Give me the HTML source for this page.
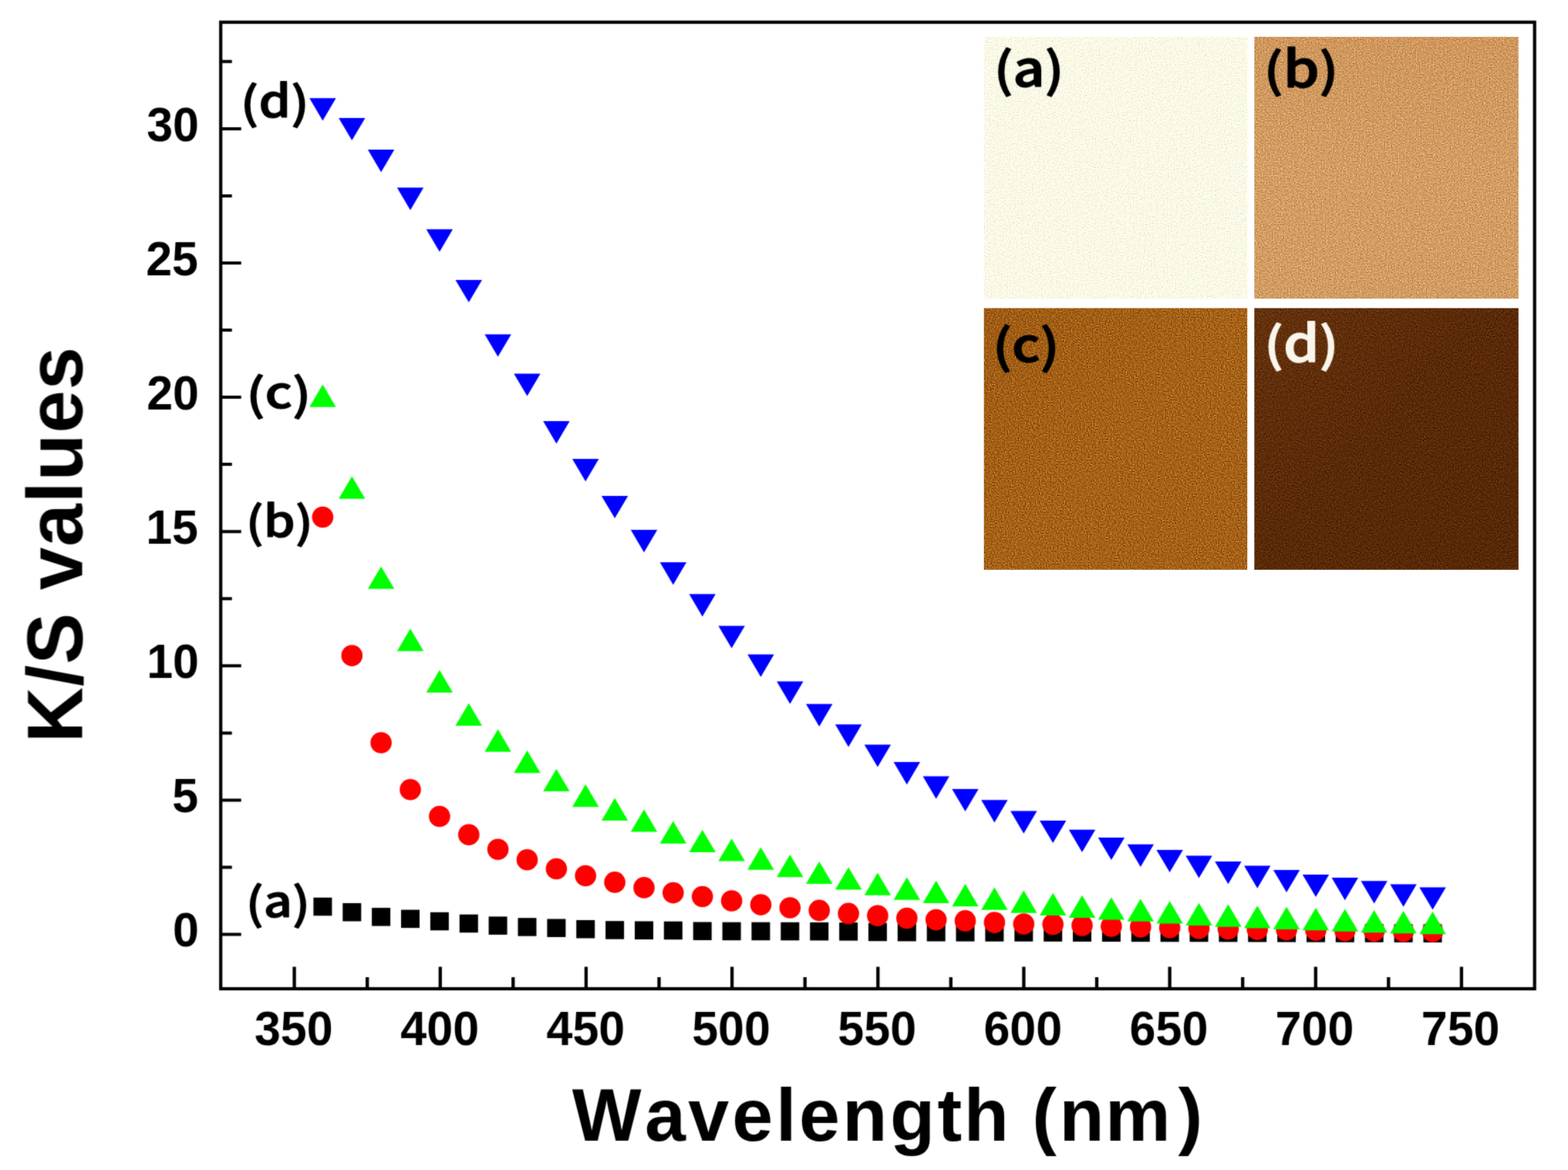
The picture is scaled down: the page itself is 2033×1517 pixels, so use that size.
<!DOCTYPE html>
<html lang="en"><head><meta charset="utf-8"><title>K/S values vs Wavelength</title>
<style>html,body{margin:0;padding:0;background:#fff;}body{width:2033px;height:1517px;overflow:hidden;}svg{display:block;}text{font-family:"Liberation Sans",sans-serif;font-weight:bold;fill:#000;font-kerning:none;}.lab{font-family:"Noto Sans CJK KR","NanumGothic","Liberation Sans",sans-serif;font-weight:bold;}</style></head><body>
<svg width="2033" height="1517" viewBox="0 0 2033 1517">
<defs>
<filter id="na" x="0" y="0" width="100%" height="100%" color-interpolation-filters="sRGB"><feTurbulence type="fractalNoise" baseFrequency="0.55" numOctaves="1" seed="3" result="n"/><feColorMatrix in="n" type="matrix" values="0.533 0.233 0.233 0 0  0.233 0.533 0.233 0 0  0.233 0.233 0.533 0 0  0 0 0 0 1" result="m"/><feComposite in="SourceGraphic" in2="m" operator="arithmetic" k1="0" k2="1" k3="0.420" k4="-0.210"/></filter>
<filter id="nb" x="0" y="0" width="100%" height="100%" color-interpolation-filters="sRGB"><feTurbulence type="fractalNoise" baseFrequency="0.55" numOctaves="1" seed="11" result="n"/><feColorMatrix in="n" type="matrix" values="0.533 0.233 0.233 0 0  0.233 0.533 0.233 0 0  0.233 0.233 0.533 0 0  0 0 0 0 1" result="m"/><feComposite in="SourceGraphic" in2="m" operator="arithmetic" k1="0" k2="1" k3="0.750" k4="-0.375"/></filter>
<filter id="nc" x="0" y="0" width="100%" height="100%" color-interpolation-filters="sRGB"><feTurbulence type="fractalNoise" baseFrequency="0.55" numOctaves="1" seed="23" result="n"/><feColorMatrix in="n" type="matrix" values="0.533 0.233 0.233 0 0  0.233 0.533 0.233 0 0  0.233 0.233 0.533 0 0  0 0 0 0 1" result="m"/><feComposite in="SourceGraphic" in2="m" operator="arithmetic" k1="0" k2="1" k3="0.800" k4="-0.400"/></filter>
<filter id="nd" x="0" y="0" width="100%" height="100%" color-interpolation-filters="sRGB"><feTurbulence type="fractalNoise" baseFrequency="0.55" numOctaves="1" seed="37" result="n"/><feColorMatrix in="n" type="matrix" values="0.533 0.233 0.233 0 0  0.233 0.533 0.233 0 0  0.233 0.233 0.533 0 0  0 0 0 0 1" result="m"/><feComposite in="SourceGraphic" in2="m" operator="arithmetic" k1="0" k2="1" k3="0.480" k4="-0.240"/></filter>
<linearGradient id="gb" x1="0" y1="0" x2="0" y2="1"><stop offset="0" stop-color="#cf975d"/><stop offset="0.5" stop-color="#d39d64"/><stop offset="1" stop-color="#d29c63"/></linearGradient>
<linearGradient id="gc" x1="0" y1="0" x2="1" y2="1"><stop offset="0" stop-color="#9f5c14"/><stop offset="0.5" stop-color="#a56218"/><stop offset="1" stop-color="#a46117"/></linearGradient>
<linearGradient id="gd" x1="0" y1="0" x2="1" y2="1"><stop offset="0" stop-color="#65320d"/><stop offset="0.45" stop-color="#5a2a08"/><stop offset="1" stop-color="#572806"/></linearGradient>
<filter id="sf" filterUnits="userSpaceOnUse" x="0" y="0" width="2033" height="1517" color-interpolation-filters="sRGB"><feConvolveMatrix order="3" kernelMatrix="1 4 1 4 16 4 1 4 1" divisor="36" edgeMode="duplicate" preserveAlpha="false"/></filter>
</defs>
<rect width="2033" height="1517" fill="#fff"/>
<clipPath id="cpa"><rect x="1275.7" y="47.8" width="341.5" height="339.4"/></clipPath>
<g clip-path="url(#cpa)"><rect x="1274" y="46" width="345" height="343" fill="#fbf9e6" filter="url(#na)"/></g>
<clipPath id="cpb"><rect x="1626.3" y="47.8" width="342.5" height="339.4"/></clipPath>
<g clip-path="url(#cpb)"><rect x="1625" y="46" width="345" height="343" fill="url(#gb)" filter="url(#nb)"/></g>
<clipPath id="cpc"><rect x="1275.7" y="399.5" width="341.5" height="339.2"/></clipPath>
<g clip-path="url(#cpc)"><rect x="1274" y="398" width="345" height="342" fill="url(#gc)" filter="url(#nc)"/></g>
<clipPath id="cpd"><rect x="1626.3" y="399.5" width="342.5" height="339.2"/></clipPath>
<g clip-path="url(#cpd)"><rect x="1625" y="398" width="345" height="342" fill="url(#gd)" filter="url(#nd)"/></g>
<g filter="url(#sf)">
<rect x="286.2" y="28.8" width="1703.5" height="1253.2" fill="none" stroke="#000" stroke-width="4.2"/>
<path d="M286.2 1211.5H312.7M286.2 1037.4H312.7M286.2 863.3H312.7M286.2 689.2H312.7M286.2 515.1H312.7M286.2 341.0H312.7M286.2 166.9H312.7M286.2 1124.5H300.7M286.2 950.4H300.7M286.2 776.2H300.7M286.2 602.1H300.7M286.2 428.0H300.7M286.2 254.0H300.7M286.2 79.8H300.7" stroke="#000" stroke-width="4" fill="none"/>
<path d="M381.6 1282.0V1253.6M570.8 1282.0V1253.6M759.9 1282.0V1253.6M949.1 1282.0V1253.6M1138.3 1282.0V1253.6M1327.4 1282.0V1253.6M1516.6 1282.0V1253.6M1705.8 1282.0V1253.6M1894.9 1282.0V1253.6M476.2 1282.0V1267.0M665.3 1282.0V1267.0M854.5 1282.0V1267.0M1043.7 1282.0V1267.0M1232.8 1282.0V1267.0M1422.0 1282.0V1267.0M1611.2 1282.0V1267.0M1800.3 1282.0V1267.0" stroke="#000" stroke-width="4.3" fill="none"/>
<g fill="#000"><rect x="406.4" y="1163.8" width="24.0" height="23.5"/><rect x="444.3" y="1171.0" width="24.0" height="23.5"/><rect x="482.1" y="1177.1" width="24.0" height="23.5"/><rect x="520.0" y="1179.6" width="24.0" height="23.5"/><rect x="557.9" y="1182.8" width="24.0" height="23.5"/><rect x="595.8" y="1185.7" width="24.0" height="23.5"/><rect x="633.6" y="1188.4" width="24.0" height="23.5"/><rect x="671.5" y="1190.2" width="24.0" height="23.5"/><rect x="709.4" y="1191.5" width="24.0" height="23.5"/><rect x="747.2" y="1193.0" width="24.0" height="23.5"/><rect x="785.1" y="1194.2" width="24.0" height="23.5"/><rect x="823.0" y="1194.5" width="24.0" height="23.5"/><rect x="860.8" y="1194.7" width="24.0" height="23.5"/><rect x="898.7" y="1195.5" width="24.0" height="23.5"/><rect x="936.6" y="1195.7" width="24.0" height="23.5"/><rect x="974.4" y="1195.7" width="24.0" height="23.5"/><rect x="1012.3" y="1195.8" width="24.0" height="23.5"/><rect x="1050.2" y="1195.9" width="24.0" height="23.5"/><rect x="1088.1" y="1196.1" width="24.0" height="23.5"/><rect x="1125.9" y="1196.7" width="24.0" height="23.5"/><rect x="1163.8" y="1196.9" width="24.0" height="23.5"/><rect x="1201.7" y="1197.0" width="24.0" height="23.5"/><rect x="1239.5" y="1197.1" width="24.0" height="23.5"/><rect x="1277.4" y="1197.2" width="24.0" height="23.5"/><rect x="1315.3" y="1197.2" width="24.0" height="23.5"/><rect x="1353.2" y="1197.3" width="24.0" height="23.5"/><rect x="1391.0" y="1197.4" width="24.0" height="23.5"/><rect x="1428.9" y="1197.5" width="24.0" height="23.5"/><rect x="1466.8" y="1197.6" width="24.0" height="23.5"/><rect x="1504.6" y="1197.7" width="24.0" height="23.5"/><rect x="1542.5" y="1197.7" width="24.0" height="23.5"/><rect x="1580.4" y="1197.8" width="24.0" height="23.5"/><rect x="1618.2" y="1197.9" width="24.0" height="23.5"/><rect x="1656.1" y="1198.0" width="24.0" height="23.5"/><rect x="1694.0" y="1198.1" width="24.0" height="23.5"/><rect x="1731.8" y="1198.2" width="24.0" height="23.5"/><rect x="1769.7" y="1198.2" width="24.0" height="23.5"/><rect x="1807.6" y="1198.3" width="24.0" height="23.5"/><rect x="1845.5" y="1198.4" width="24.0" height="23.5"/></g>
<g fill="#f00"><circle cx="418.4" cy="670.5" r="13.8"/><circle cx="456.3" cy="850.1" r="13.8"/><circle cx="494.1" cy="963.0" r="13.8"/><circle cx="532.0" cy="1023.8" r="13.8"/><circle cx="569.9" cy="1058.5" r="13.8"/><circle cx="607.8" cy="1082.3" r="13.8"/><circle cx="645.6" cy="1101.2" r="13.8"/><circle cx="683.5" cy="1114.8" r="13.8"/><circle cx="721.4" cy="1126.5" r="13.8"/><circle cx="759.2" cy="1135.5" r="13.8"/><circle cx="797.1" cy="1143.9" r="13.8"/><circle cx="835.0" cy="1150.9" r="13.8"/><circle cx="872.8" cy="1157.6" r="13.8"/><circle cx="910.7" cy="1162.5" r="13.8"/><circle cx="948.6" cy="1168.0" r="13.8"/><circle cx="986.4" cy="1173.1" r="13.8"/><circle cx="1024.3" cy="1177.0" r="13.8"/><circle cx="1062.2" cy="1180.4" r="13.8"/><circle cx="1100.1" cy="1184.4" r="13.8"/><circle cx="1137.9" cy="1187.2" r="13.8"/><circle cx="1175.8" cy="1190.5" r="13.8"/><circle cx="1213.7" cy="1192.6" r="13.8"/><circle cx="1251.5" cy="1193.9" r="13.8"/><circle cx="1289.4" cy="1196.1" r="13.8"/><circle cx="1327.3" cy="1198.0" r="13.8"/><circle cx="1365.2" cy="1198.6" r="13.8"/><circle cx="1403.0" cy="1200.0" r="13.8"/><circle cx="1440.9" cy="1201.0" r="13.8"/><circle cx="1478.8" cy="1201.8" r="13.8"/><circle cx="1516.6" cy="1202.8" r="13.8"/><circle cx="1554.5" cy="1203.7" r="13.8"/><circle cx="1592.4" cy="1204.4" r="13.8"/><circle cx="1630.2" cy="1205.1" r="13.8"/><circle cx="1668.1" cy="1205.6" r="13.8"/><circle cx="1706.0" cy="1206.1" r="13.8"/><circle cx="1743.8" cy="1206.6" r="13.8"/><circle cx="1781.7" cy="1207.1" r="13.8"/><circle cx="1819.6" cy="1207.4" r="13.8"/><circle cx="1857.5" cy="1207.7" r="13.8"/></g>
<g fill="#0f0"><path d="M418.4 498.6L435.6 527.8H401.2Z"/><path d="M456.3 617.6L473.5 646.8H439.1Z"/><path d="M494.1 734.4L511.3 763.6H476.9Z"/><path d="M532.0 815.0L549.2 844.2H514.8Z"/><path d="M569.9 868.8L587.1 898.0H552.7Z"/><path d="M607.8 911.7L625.0 940.9H590.5Z"/><path d="M645.6 945.6L662.8 974.8H628.4Z"/><path d="M683.5 973.1L700.7 1002.3H666.3Z"/><path d="M721.4 996.9L738.6 1026.1H704.2Z"/><path d="M759.2 1017.0L776.4 1046.2H742.0Z"/><path d="M797.1 1034.8L814.3 1064.0H779.9Z"/><path d="M835.0 1049.4L852.2 1078.6H817.8Z"/><path d="M872.8 1064.5L890.0 1093.7H855.6Z"/><path d="M910.7 1075.9L927.9 1105.1H893.5Z"/><path d="M948.6 1087.2L965.8 1116.4H931.4Z"/><path d="M986.4 1098.5L1003.6 1127.7H969.2Z"/><path d="M1024.3 1108.1L1041.5 1137.3H1007.1Z"/><path d="M1062.2 1116.9L1079.4 1146.1H1045.0Z"/><path d="M1100.1 1124.4L1117.3 1153.6H1082.9Z"/><path d="M1137.9 1131.5L1155.1 1160.7H1120.7Z"/><path d="M1175.8 1137.5L1193.0 1166.7H1158.6Z"/><path d="M1213.7 1141.7L1230.9 1170.9H1196.5Z"/><path d="M1251.5 1146.0L1268.7 1175.2H1234.3Z"/><path d="M1289.4 1150.6L1306.6 1179.8H1272.2Z"/><path d="M1327.3 1154.6L1344.5 1183.8H1310.1Z"/><path d="M1365.2 1157.7L1382.4 1186.9H1348.0Z"/><path d="M1403.0 1160.8L1420.2 1190.0H1385.8Z"/><path d="M1440.9 1163.4L1458.1 1192.6H1423.7Z"/><path d="M1478.8 1165.6L1496.0 1194.8H1461.6Z"/><path d="M1516.6 1168.3L1533.8 1197.5H1499.4Z"/><path d="M1554.5 1170.8L1571.7 1200.0H1537.3Z"/><path d="M1592.4 1172.6L1609.6 1201.8H1575.2Z"/><path d="M1630.2 1174.2L1647.4 1203.4H1613.0Z"/><path d="M1668.1 1175.7L1685.3 1204.9H1650.9Z"/><path d="M1706.0 1177.1L1723.2 1206.3H1688.8Z"/><path d="M1743.8 1178.6L1761.0 1207.8H1726.6Z"/><path d="M1781.7 1180.1L1798.9 1209.3H1764.5Z"/><path d="M1819.6 1181.0L1836.8 1210.2H1802.4Z"/><path d="M1857.5 1182.0L1874.7 1211.2H1840.3Z"/></g>
<g fill="#00f"><path d="M418.4 156.5L435.6 127.3H401.2Z"/><path d="M456.3 182.1L473.5 152.9H439.1Z"/><path d="M494.1 223.3L511.3 194.1H476.9Z"/><path d="M532.0 272.4L549.2 243.2H514.8Z"/><path d="M569.9 326.5L587.1 297.3H552.7Z"/><path d="M607.8 392.1L625.0 362.9H590.5Z"/><path d="M645.6 462.6L662.8 433.4H628.4Z"/><path d="M683.5 513.6L700.7 484.4H666.3Z"/><path d="M721.4 575.3L738.6 546.1H704.2Z"/><path d="M759.2 624.2L776.4 595.0H742.0Z"/><path d="M797.1 672.1L814.3 642.9H779.9Z"/><path d="M835.0 716.3L852.2 687.1H817.8Z"/><path d="M872.8 758.3L890.0 729.1H855.6Z"/><path d="M910.7 799.4L927.9 770.2H893.5Z"/><path d="M948.6 840.6L965.8 811.4H931.4Z"/><path d="M986.4 877.7L1003.6 848.5H969.2Z"/><path d="M1024.3 912.8L1041.5 883.6H1007.1Z"/><path d="M1062.2 942.0L1079.4 912.8H1045.0Z"/><path d="M1100.1 968.4L1117.3 939.2H1082.9Z"/><path d="M1137.9 994.6L1155.1 965.4H1120.7Z"/><path d="M1175.8 1017.3L1193.0 988.1H1158.6Z"/><path d="M1213.7 1035.7L1230.9 1006.5H1196.5Z"/><path d="M1251.5 1052.1L1268.7 1022.9H1234.3Z"/><path d="M1289.4 1066.4L1306.6 1037.2H1272.2Z"/><path d="M1327.3 1080.7L1344.5 1051.5H1310.1Z"/><path d="M1365.2 1093.1L1382.4 1063.9H1348.0Z"/><path d="M1403.0 1104.9L1420.2 1075.7H1385.8Z"/><path d="M1440.9 1115.1L1458.1 1085.9H1423.7Z"/><path d="M1478.8 1124.0L1496.0 1094.8H1461.6Z"/><path d="M1516.6 1131.1L1533.8 1101.9H1499.4Z"/><path d="M1554.5 1138.6L1571.7 1109.4H1537.3Z"/><path d="M1592.4 1146.2L1609.6 1117.0H1575.2Z"/><path d="M1630.2 1151.7L1647.4 1122.5H1613.0Z"/><path d="M1668.1 1157.1L1685.3 1127.9H1650.9Z"/><path d="M1706.0 1163.1L1723.2 1133.9H1688.8Z"/><path d="M1743.8 1167.3L1761.0 1138.1H1726.6Z"/><path d="M1781.7 1171.4L1798.9 1142.2H1764.5Z"/><path d="M1819.6 1175.8L1836.8 1146.6H1802.4Z"/><path d="M1857.5 1179.6L1874.7 1150.4H1840.3Z"/></g>
<text transform="translate(329.93 1355.13) scale(1.0000 1.0289)" font-size="61">350</text>
<text transform="translate(519.34 1355.38) scale(1.0000 1.0349)" font-size="61">400</text>
<text transform="translate(708.51 1355.38) scale(1.0000 1.0349)" font-size="61">450</text>
<text transform="translate(897.17 1355.38) scale(1.0000 1.0349)" font-size="61">500</text>
<text transform="translate(1086.34 1355.38) scale(1.0000 1.0349)" font-size="61">550</text>
<text transform="translate(1275.38 1355.38) scale(1.0000 1.0349)" font-size="61">600</text>
<text transform="translate(1464.54 1355.38) scale(1.0000 1.0349)" font-size="61">650</text>
<text transform="translate(1653.58 1355.38) scale(1.0000 1.0349)" font-size="61">700</text>
<text transform="translate(1842.75 1355.38) scale(1.0000 1.0349)" font-size="61">750</text>
<text transform="translate(223.90 1227.08) scale(1.0000 1.0326)" font-size="61">0</text>
<text transform="translate(223.15 1053.08) scale(1.0000 1.0447)" font-size="61">5</text>
<text transform="translate(190.15 879.08) scale(1.0000 1.0326)" font-size="61">10</text>
<text transform="translate(189.15 705.08) scale(1.0000 1.0447)" font-size="61">15</text>
<text transform="translate(190.15 531.08) scale(1.0000 1.0326)" font-size="61">20</text>
<text transform="translate(189.15 357.08) scale(1.0000 1.0326)" font-size="61">25</text>
<text transform="translate(190.15 182.83) scale(1.0000 1.0266)" font-size="61">30</text>
<text transform="translate(741.65 1478.80) scale(0.9912 1.0072)" font-size="96" letter-spacing="3.5" dx="0 1 0 0.5 0.5 0 0 0 0 -1 0 -3 0 -2 6.5">Wavelength (nm)</text>
<text transform="translate(106.97 963.03) rotate(-90) scale(0.9972 1.0161)" font-size="100" letter-spacing="1">K/S values</text>
<text transform="translate(311.86 154.39) scale(1.1418 0.9886)" font-size="58" letter-spacing="0" dy="0 -2.6 2.6" class="lab" style="font-weight:500;stroke:#000;stroke-width:1.2;stroke-linejoin:round;">(d)</text>
<text transform="translate(319.18 531.84) scale(1.1823 0.9844)" font-size="58" letter-spacing="0" dy="0 -3.2 3.2" class="lab" style="font-weight:500;stroke:#000;stroke-width:1.2;stroke-linejoin:round;">(c)</text>
<text transform="translate(318.65 698.31) scale(1.1229 0.9707)" font-size="58" letter-spacing="0" dy="0 -2.6 2.6" class="lab" style="font-weight:500;stroke:#000;stroke-width:1.2;stroke-linejoin:round;">(b)</text>
<text transform="translate(318.67 1191.84) scale(1.1176 0.9844)" font-size="58" letter-spacing="0" dy="0 -3.2 3.2" class="lab" style="font-weight:500;stroke:#000;stroke-width:1.2;stroke-linejoin:round;">(a)</text>
<text transform="translate(1288.87 113.23) scale(1.1021 0.9788)" font-size="63" letter-spacing="0" class="lab" style="font-weight:500;stroke:#000;stroke-width:1.5;stroke-linejoin:round;">(<tspan font-size="65" dy="-1.0">a</tspan><tspan dy="1.0">)</tspan></text>
<text transform="translate(1638.85 113.48) scale(1.1048 0.9600)" font-size="63" letter-spacing="0" class="lab" style="font-weight:500;stroke:#000;stroke-width:1.5;stroke-linejoin:round;">(<tspan font-size="67.5" dy="-1.0">b</tspan><tspan dy="1.0">)</tspan></text>
<text transform="translate(1286.88 470.83) scale(1.1203 0.9636)" font-size="63" letter-spacing="0" class="lab" style="font-weight:500;stroke:#000;stroke-width:1.5;stroke-linejoin:round;">(<tspan font-size="63" dy="-1.5">c</tspan><tspan dy="1.5">)</tspan></text>
<text transform="translate(1639.28 469.17) scale(1.0997 0.9683)" font-size="63" letter-spacing="0" class="lab" style="fill:#f9f6ec;font-weight:500;stroke:#f9f6ec;stroke-width:1.5;stroke-linejoin:round;">(<tspan font-size="67.5" dy="-0">d</tspan><tspan dy="0">)</tspan></text>
</g>
</svg></body></html>
